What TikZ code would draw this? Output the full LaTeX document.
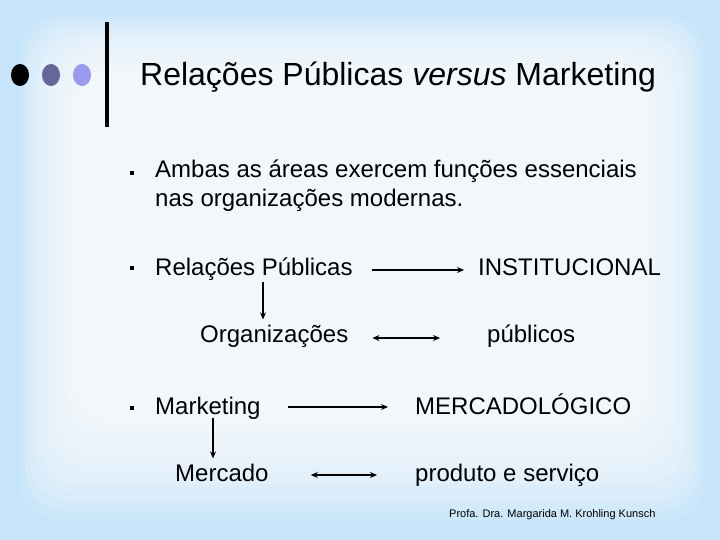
\documentclass[tikz,border=0pt]{standalone}
\usepackage{fontspec}
\setmainfont{Liberation Sans}
\usetikzlibrary{arrows.meta,calc}
\definecolor{bgblue}{RGB}{198,228,250}
\definecolor{dotdark}{RGB}{102,102,153}
\definecolor{dotlight}{RGB}{153,153,238}
\tikzset{
  body/.style={anchor=base west, inner sep=0pt, font=\fontsize{24}{28}\selectfont},
  arr/.style={line width=1.6pt, -{Stealth[length=7pt,width=6pt]}},
  darr/.style={line width=1.6pt, {Stealth[length=7pt,width=6pt]}-{Stealth[length=7pt,width=6pt]}},
  sqbullet/.style={fill=black, minimum size=4pt, inner sep=0pt},
}
\begin{document}
\begin{tikzpicture}[x=1pt,y=-1pt]
\useasboundingbox (0,0) rectangle (720,540);
\fill[bgblue] (0,0) rectangle (720,540);
\foreach \i in {0,...,11}{
  \fill[white, opacity=0.13, rounded corners=40pt]
    ({20+5*\i},{15+5*\i}) rectangle ({705-5*\i},{520-9*\i});
}
% title area
\fill[black] (20,75) ellipse (9 and 11);
\fill[dotdark] (51,75) ellipse (9 and 11);
\fill[dotlight] (82,75) ellipse (9 and 11);
\draw[line width=3.5pt] (107,22) -- (107,127);
\node[anchor=base west, inner sep=0pt, font=\fontsize{32}{36}\selectfont] (title) at (140,86) {Relações Públicas \textit{versus} Marketing};
% bullet 1
\node[sqbullet] (b1) at (132,173) {};
\node[body] (t1a) at (155,178) {Ambas as áreas exercem funções essenciais};
\node[body] (t1b) at (155,207) {nas organizações modernas.};
% bullet 2
\node[sqbullet] (b2) at (132,268) {};
\node[body] (rp) at (155,275) {Relações Públicas};
\node[body] (inst) at (478,275) {INSTITUCIONAL};
\node[body] (org) at (200,342) {Organizações};
\node[body] (pub) at (487,342) {públicos};
\draw[arr] ($(rp.base east)+(19,-5)$) -- ($(inst.base west)+(-14,-5)$);
\coordinate (rpdown) at ($(rp.base west)+(108,7)$);
\draw[arr] (rpdown) -- ($(rpdown |- org.north)+(0,-5)$);
\draw[darr] ($(org.base east)+(24,-4)$) -- ($(pub.base west)+(-47,-4)$);
% bullet 3
\node[sqbullet] (b3) at (132,408) {};
\node[body] (mk) at (155,414) {Marketing};
\node[body] (merc) at (415,414) {MERCADOLÓGICO};
\node[body] (mc) at (175,481) {Mercado};
\node[body] (ps) at (415,481) {produto e serviço};
\draw[arr] ($(mk.base east)+(27,-7)$) -- ($(merc.base west)+(-27,-7)$);
\coordinate (mkdown) at ($(mk.base west)+(58,4)$);
\draw[arr] (mkdown) -- ($(mkdown |- mc.north)+(0,-5)$);
\draw[darr] ($(mc.base east)+(42,-6)$) -- ($(ps.base west)+(-38,-6)$);
% footer
\node[anchor=base west, inner sep=0pt, font=\fontsize{11}{13}\selectfont] (foot) at (449,517) {Profa. Dra. Margarida M. Krohling Kunsch};
\end{tikzpicture}
\end{document}
